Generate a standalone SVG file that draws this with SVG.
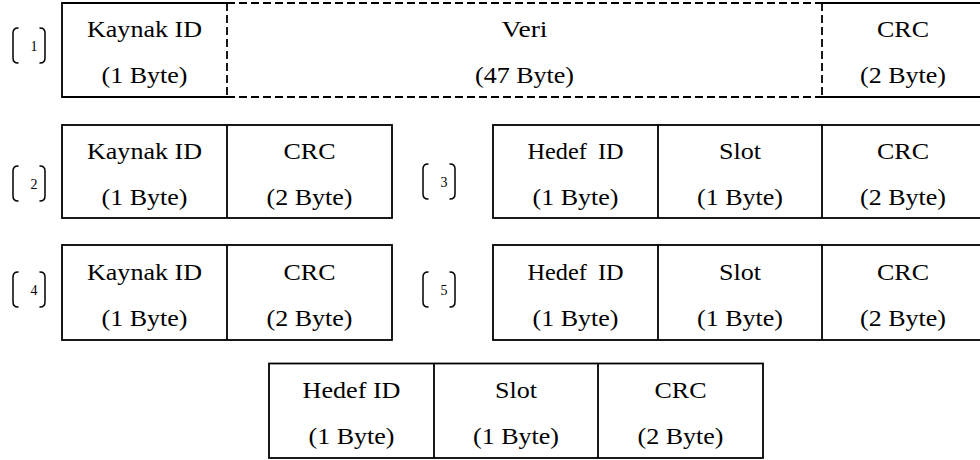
<svg xmlns="http://www.w3.org/2000/svg" width="980" height="460" viewBox="0 0 980 460">
  <style>
    .cell { fill: none; stroke: #000; stroke-width: 1.8; }
    .dash { fill: none; stroke: #000; stroke-width: 1.8; stroke-dasharray: 8 4; }
    .brk { fill: none; stroke: #000; stroke-width: 1.5; stroke-linecap: round; }
    text { font-family: "Liberation Serif", "Times New Roman", serif; fill: #000; text-anchor: middle; }
    .t { font-size: 24px; }
    .n { font-size: 14px; }
  </style>
  <defs>
    <!-- bracket pair around a packet number, drawn at the origin -->
    <g id="bracket">
      <path class="brk" d="M6,0 Q1,0 1,5 L1,30 Q1,35 6,35"/>
      <path class="brk" d="M28,0 Q33,0 33,5 L33,30 Q33,35 28,35"/>
    </g>
  </defs>
  <rect width="980" height="460" fill="#fff"/>

  <!-- packet 1: source ID, 47-byte payload, CRC -->
  <g id="packet1">
    <use href="#bracket" x="12" y="28"/>
    <text class="n" x="34" y="51">1</text>
    <path class="cell" d="M227,3 L62,3 L62,97 L227,97"/>
    <path class="cell" d="M822,3 L987,3 M822,97 L987,97"/>
    <path class="dash" d="M227,3 L822,3 M227,97 L822,97 M227,3 L227,97 M822,3 L822,97"/>
    <text class="t" x="144.5" y="37" textLength="115" lengthAdjust="spacingAndGlyphs">Kaynak ID</text>
    <text class="t" x="144.5" y="83" textLength="86" lengthAdjust="spacingAndGlyphs">(1 Byte)</text>
    <text class="t" x="524.5" y="37" textLength="46" lengthAdjust="spacingAndGlyphs">Veri</text>
    <text class="t" x="524.5" y="83" textLength="99" lengthAdjust="spacingAndGlyphs">(47 Byte)</text>
    <text class="t" x="903" y="37" textLength="52" lengthAdjust="spacingAndGlyphs">CRC</text>
    <text class="t" x="903" y="83" textLength="86" lengthAdjust="spacingAndGlyphs">(2 Byte)</text>
  </g>

  <!-- packet 2: source ID, CRC -->
  <g id="packet2">
    <use href="#bracket" x="12" y="166"/>
    <text class="n" x="34" y="189">2</text>
    <rect class="cell" x="62" y="125" width="330" height="93"/>
    <line class="cell" x1="227" y1="125" x2="227" y2="218"/>
    <text class="t" x="144.5" y="159" textLength="115" lengthAdjust="spacingAndGlyphs">Kaynak ID</text>
    <text class="t" x="144.5" y="205" textLength="86" lengthAdjust="spacingAndGlyphs">(1 Byte)</text>
    <text class="t" x="309.5" y="159" textLength="52" lengthAdjust="spacingAndGlyphs">CRC</text>
    <text class="t" x="309.5" y="205" textLength="86" lengthAdjust="spacingAndGlyphs">(2 Byte)</text>
  </g>

  <!-- packet 3: destination ID, slot, CRC -->
  <g id="packet3">
    <use href="#bracket" x="422" y="164"/>
    <text class="n" x="444" y="187">3</text>
    <rect class="cell" x="493" y="125" width="494" height="93"/>
    <line class="cell" x1="658" y1="125" x2="658" y2="218"/>
    <line class="cell" x1="822" y1="125" x2="822" y2="218"/>
    <text class="t" x="575.5" y="159" textLength="96" lengthAdjust="spacingAndGlyphs">Hedef <tspan dx="5">ID</tspan></text>
    <text class="t" x="575.5" y="205" textLength="86" lengthAdjust="spacingAndGlyphs">(1 Byte)</text>
    <text class="t" x="740" y="159" textLength="42" lengthAdjust="spacingAndGlyphs">Slot</text>
    <text class="t" x="740" y="205" textLength="86" lengthAdjust="spacingAndGlyphs">(1 Byte)</text>
    <text class="t" x="903" y="159" textLength="52" lengthAdjust="spacingAndGlyphs">CRC</text>
    <text class="t" x="903" y="205" textLength="86" lengthAdjust="spacingAndGlyphs">(2 Byte)</text>
  </g>

  <!-- packet 4: source ID, CRC -->
  <g id="packet4">
    <use href="#bracket" x="12" y="272"/>
    <text class="n" x="34" y="295">4</text>
    <rect class="cell" x="62" y="245" width="330" height="95"/>
    <line class="cell" x1="227" y1="245" x2="227" y2="340"/>
    <text class="t" x="144.5" y="280" textLength="115" lengthAdjust="spacingAndGlyphs">Kaynak ID</text>
    <text class="t" x="144.5" y="326" textLength="86" lengthAdjust="spacingAndGlyphs">(1 Byte)</text>
    <text class="t" x="309.5" y="280" textLength="52" lengthAdjust="spacingAndGlyphs">CRC</text>
    <text class="t" x="309.5" y="326" textLength="86" lengthAdjust="spacingAndGlyphs">(2 Byte)</text>
  </g>

  <!-- packet 5: destination ID, slot, CRC -->
  <g id="packet5">
    <use href="#bracket" x="422" y="272"/>
    <text class="n" x="444" y="295">5</text>
    <rect class="cell" x="493" y="245" width="494" height="95"/>
    <line class="cell" x1="658" y1="245" x2="658" y2="340"/>
    <line class="cell" x1="822" y1="245" x2="822" y2="340"/>
    <text class="t" x="575.5" y="280" textLength="96" lengthAdjust="spacingAndGlyphs">Hedef <tspan dx="5">ID</tspan></text>
    <text class="t" x="575.5" y="326" textLength="86" lengthAdjust="spacingAndGlyphs">(1 Byte)</text>
    <text class="t" x="740" y="280" textLength="42" lengthAdjust="spacingAndGlyphs">Slot</text>
    <text class="t" x="740" y="326" textLength="86" lengthAdjust="spacingAndGlyphs">(1 Byte)</text>
    <text class="t" x="903" y="280" textLength="52" lengthAdjust="spacingAndGlyphs">CRC</text>
    <text class="t" x="903" y="326" textLength="86" lengthAdjust="spacingAndGlyphs">(2 Byte)</text>
  </g>

  <!-- packet 6: destination ID, slot, CRC -->
  <g id="packet6">
    <rect class="cell" x="269" y="363.5" width="494" height="94.5"/>
    <line class="cell" x1="434" y1="363.5" x2="434" y2="458"/>
    <line class="cell" x1="598" y1="363.5" x2="598" y2="458"/>
    <text class="t" x="351.5" y="398" textLength="98" lengthAdjust="spacingAndGlyphs">Hedef ID</text>
    <text class="t" x="351.5" y="444" textLength="86" lengthAdjust="spacingAndGlyphs">(1 Byte)</text>
    <text class="t" x="516" y="398" textLength="42" lengthAdjust="spacingAndGlyphs">Slot</text>
    <text class="t" x="516" y="444" textLength="86" lengthAdjust="spacingAndGlyphs">(1 Byte)</text>
    <text class="t" x="680.5" y="398" textLength="52" lengthAdjust="spacingAndGlyphs">CRC</text>
    <text class="t" x="680.5" y="444" textLength="86" lengthAdjust="spacingAndGlyphs">(2 Byte)</text>
  </g>
</svg>
